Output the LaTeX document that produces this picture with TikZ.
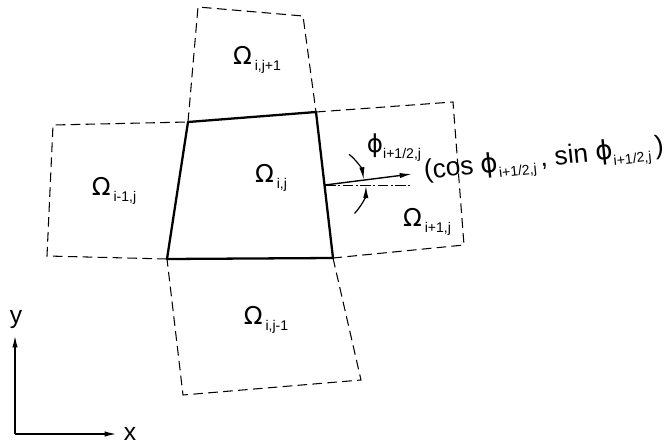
\documentclass[tikz,border=0pt]{standalone}
\usepackage{fontspec}
\setmainfont{Liberation Sans}
\newfontfamily\dv{DejaVu Sans}
\usetikzlibrary{arrows.meta}
\newcommand{\Om}[1]{{\fontsize{14}{14}\selectfont\dv Ω}\,\raisebox{-0.6ex}{\fontsize{8}{8}\selectfont #1}}
\newcommand{\ph}[1]{{\dv ϕ}\raisebox{-0.45ex}{\fontsize{8}{8}\selectfont #1}}
\begin{document}
\begin{tikzpicture}[x=0.02cm,y=0.02cm,
  cell/.style={line width=1.3pt,line join=round},
  nb/.style={line width=0.6pt,dash pattern=on 5.5pt off 3pt},
  tip/.style={-{Latex[length=7pt,width=3pt]}},
  lab/.style={inner sep=0pt}]
\useasboundingbox (0,0) rectangle (666,444);
% central cell corners
\coordinate (A) at (188,322);
\coordinate (B) at (316,332);
\coordinate (C) at (333,186);
\coordinate (D) at (167,185);
% neighbour corners
\coordinate (T1) at (198,437);
\coordinate (T2) at (303,428);
\coordinate (R1) at (453,342);
\coordinate (R2) at (464,199);
\coordinate (Bo1) at (361,64);
\coordinate (Bo2) at (183,49);
\coordinate (L1) at (53,319);
\coordinate (L2) at (47,188);
% neighbours
\draw[nb] (A) -- (T1) -- (T2) -- (B);
\draw[nb] (B) -- (R1) -- (R2) -- (C);
\draw[nb] (C) -- (Bo1) -- (Bo2) -- (D);
\draw[nb] (D) -- (L2) -- (L1) -- (A);
% central
\draw[cell] (A) -- (B) -- (C) -- (D) -- cycle;
% labels
\node[lab] (lt) at (257,384) {\Om{i,j+1}};
\node[lab] (lc) at (271,266) {\Om{i,j}};
\node[lab] (ll) at (114,253) {\Om{i-1,j}};
\node[lab] (lr) at (427,222) {\Om{i+1,j}};
\node[lab] (lb) at (266,124) {\Om{i,j-1}};
% normal vector
\coordinate (O) at (325,259);
\coordinate (E) at (412,270);
\coordinate (H) at (412,259);
\draw[line width=0.5pt,dash pattern=on 6pt off 1.5pt on 1pt off 1.5pt] (O) -- (H);
\draw[tip,line width=0.8pt] (O) -- (E);
\draw[tip,line width=0.7pt] (O) ++(52:0.78cm) arc[start angle=52,end angle=8,radius=0.78cm];
\draw[tip,line width=0.7pt] (O) ++(-44:0.82cm) arc[start angle=-44,end angle=-1,radius=0.82cm];
\node[lab] (phl) at (394,296) {\fontsize{14}{14}\selectfont\ph{i+1/2,j}};
\node[lab,rotate=6] (vec) at (544,283) {\fontsize{15}{15}\selectfont (cos \ph{i+1/2,j}\,, sin \ph{i+1/2,j}\,)};
% axes
\coordinate (org) at (15,10);
\coordinate (ytip) at (15,109);
\coordinate (xtip) at (117,10);
\draw[tip,line width=0.9pt] (org) -- (ytip);
\draw[tip,line width=0.9pt] (org) -- (xtip);
\node[lab] (yl) at (16,124) {\fontsize{14}{14}\selectfont y};
\node[lab] (xl) at (130,10) {\fontsize{14}{14}\selectfont x};
\end{tikzpicture}
\end{document}
